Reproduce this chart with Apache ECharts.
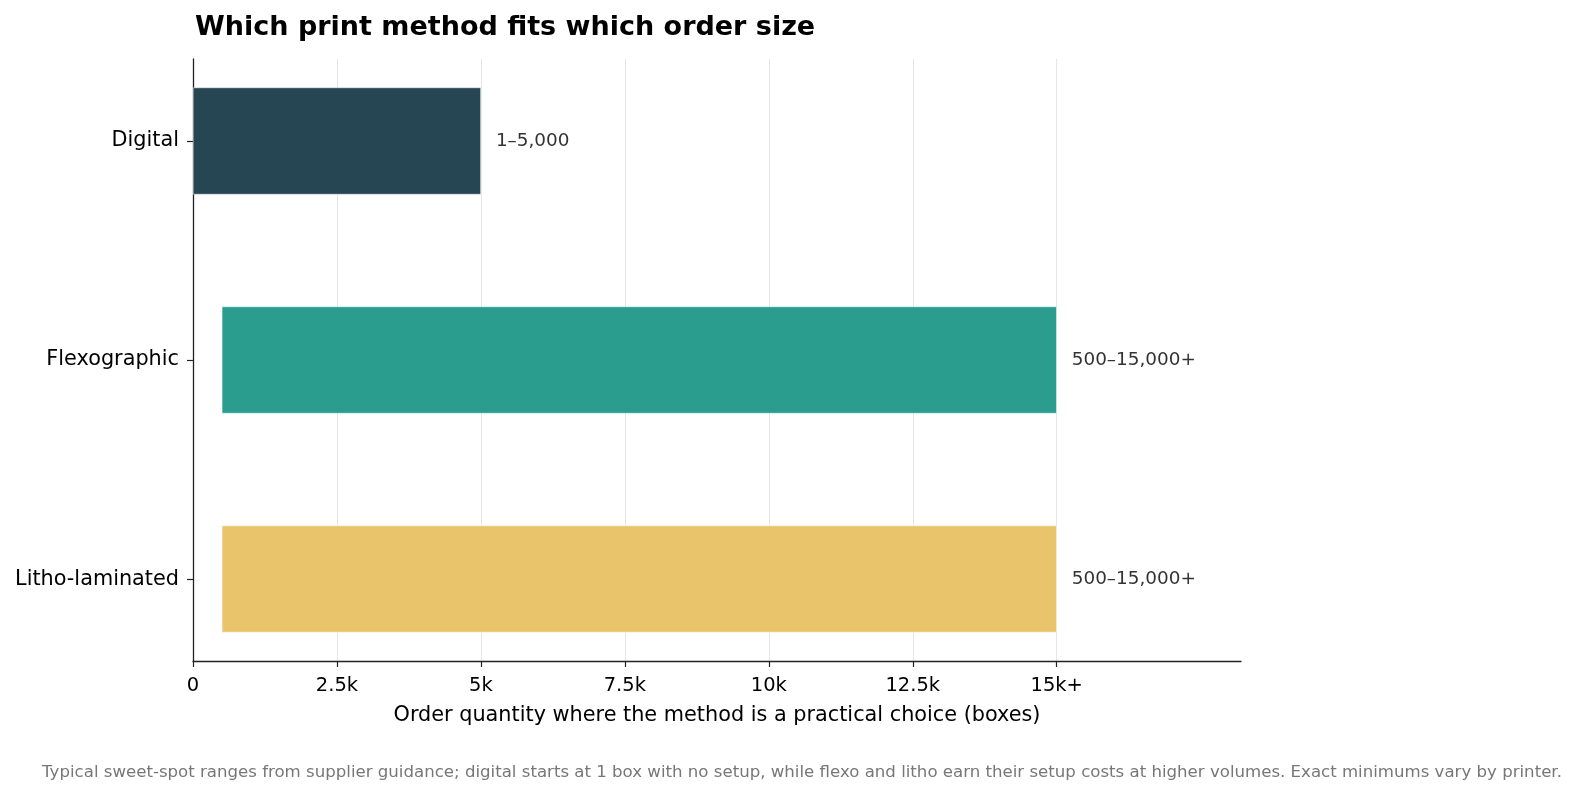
<!DOCTYPE html>
<html>
<head>
<meta charset="utf-8">
<script src="https://cdn.jsdelivr.net/npm/echarts@6/dist/echarts.min.js"></script>
<style>
  html, body { margin: 0; padding: 0; background: #fff; }
  #chart { width: 1575px; height: 795px; }
</style>
</head>
<body>
<div id="chart"></div>
<script>
// print methods, top to bottom
const methods = ['Digital', 'Flexographic', 'Litho-laminated'];
const rangeStart = [1, 500, 500];
const rangeEnd = [5000, 15000, 15000];
const rangeLabels = ['1–5,000', '500–15,000+', '500–15,000+'];
const colors = ['#264653', '#2a9d8f', '#e9c46a'];

const tickValues = [0, 2500, 5000, 7500, 10000, 12500, 15000];
const tickLabels = ['0', '2.5k', '5k', '7.5k', '10k', '12.5k', '15k+'];
const methodPos = [0, 1, 2];

const FONT = 'DejaVu Sans';
const X_MAX = 18200;
const PAD = 0.373;   // category padding above first / below last bar

const chart = echarts.init(document.getElementById('chart'));

const options = {
  animation: false,
  textStyle: { fontFamily: FONT },
  title: [
    {
      text: 'Which print method fits which order size',
      left: 190,
      top: 9,
      textStyle: { fontFamily: FONT, fontSize: 27, fontWeight: 'bold', color: '#000' }
    },
    {
      text: 'Typical sweet-spot ranges from supplier guidance; digital starts at 1 box with no setup, while flexo and litho earn their setup costs at higher volumes. Exact minimums vary by printer.',
      left: 797,
      textAlign: 'center',
      top: 759,
      textStyle: { fontFamily: FONT, fontSize: 16.6, fontWeight: 'normal', color: '#777' }
    }
  ],
  grid: [
    // bars: category bands stretched past the axis frame
    { left: 193, right: 334, top: 31.5, bottom: 106.5, outerBoundsMode: 'none' },
    // axis frame
    { left: 193, right: 334, top: 59, bottom: 134, outerBoundsMode: 'none' }
  ],
  xAxis: [
    { gridIndex: 0, type: 'value', min: 0, max: X_MAX, show: false },
    {
      gridIndex: 1,
      type: 'value',
      min: 0,
      max: X_MAX,
      name: 'Order quantity where the method is a practical choice (boxes)',
      nameLocation: 'middle',
      nameGap: 44,
      nameTextStyle: { fontFamily: FONT, fontSize: 20.8, color: '#000', verticalAlign: 'top' },
      axisLine: { show: true, onZero: false, lineStyle: { color: '#222', width: 1.3 } },
      axisTick: { show: true, customValues: tickValues, length: 6, lineStyle: { color: '#222', width: 1.2 } },
      axisLabel: {
        customValues: tickValues,
        formatter: v => tickLabels[tickValues.indexOf(v)],
        fontFamily: FONT, fontSize: 19.5, color: '#000', margin: 15
      },
      splitLine: { show: false }
    }
  ],
  yAxis: [
    { gridIndex: 0, type: 'category', data: methods, inverse: true, show: false },
    {
      gridIndex: 1,
      type: 'value',
      min: -PAD,
      max: 2 + PAD,
      inverse: true,
      axisLine: { show: true, onZero: false, lineStyle: { color: '#222', width: 1.3 } },
      axisTick: { show: true, customValues: methodPos, length: 6, lineStyle: { color: '#222', width: 1.2 } },
      axisLabel: {
        customValues: methodPos,
        formatter: v => methods[Math.round(v)],
        fontFamily: FONT, fontSize: 20.8, color: '#000', margin: 14
      },
      splitLine: { show: false }
    }
  ],
  series: [
    {
      // holds the vertical grid lines inside the axis frame
      name: 'grid',
      type: 'line',
      xAxisIndex: 1,
      yAxisIndex: 1,
      data: [],
      silent: true,
      z: 0,
      markLine: {
        silent: true,
        symbol: 'none',
        z: 0,
        label: { show: false },
        lineStyle: { color: '#e6e6e6', type: 'solid', width: 1 },
        data: tickValues.slice(1).map(v => ({ xAxis: v }))
      }
    },
    {
      name: 'base',
      type: 'bar',
      stack: 'range',
      silent: true,
      xAxisIndex: 0,
      yAxisIndex: 0,
      barWidth: 107,
      itemStyle: { color: 'transparent' },
      data: rangeStart,
      z: 5
    },
    {
      name: 'range',
      type: 'bar',
      stack: 'range',
      xAxisIndex: 0,
      yAxisIndex: 0,
      barWidth: 107,
      z: 6,
      data: rangeEnd.map((e, i) => ({
        value: e - rangeStart[i],
        itemStyle: { color: colors[i], borderColor: '#fff', borderWidth: 0.5 }
      })),
      label: {
        show: true,
        position: 'right',
        distance: 15,
        formatter: p => rangeLabels[p.dataIndex],
        fontFamily: FONT,
        fontSize: 18.4,
        color: '#333'
      }
    }
  ]
};

chart.setOption(options);
</script>
</body>
</html>
